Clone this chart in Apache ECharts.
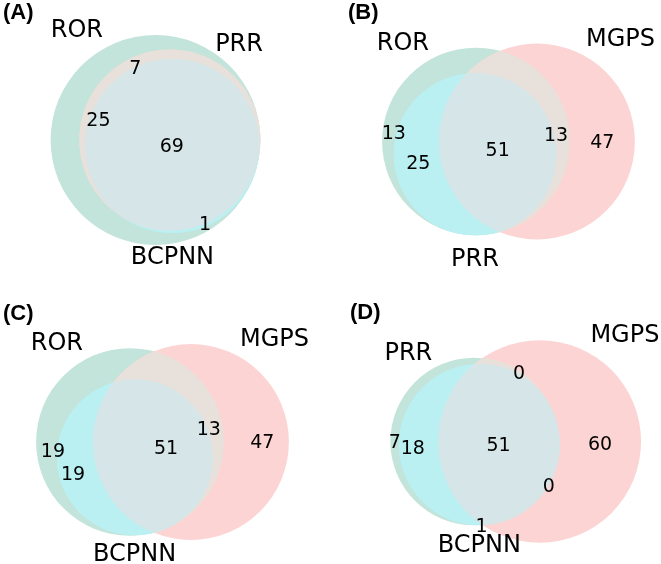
<!DOCTYPE html>
<html><head><meta charset="utf-8">
<script src="https://cdn.jsdelivr.net/npm/echarts@6/dist/echarts.min.js"></script>
<style>html,body{margin:0;padding:0;background:#fff}#chart{width:661px;height:564px}</style>
</head><body><div id="chart"></div>
<script>
// ---------------- data ----------------
const panelTitles = ['(A)', '(B)', '(C)', '(D)'];
const setsA = ['ROR', 'PRR', 'BCPNN'];
const setsB = ['ROR', 'MGPS', 'PRR'];
const setsC = ['ROR', 'MGPS', 'BCPNN'];
const setsD = ['PRR', 'MGPS', 'BCPNN'];
// subset counts, order: 100, 010, 110, 001, 101, 011, 111
const subsetsA = [25, 0, 7, 0, 1, 0, 69];
const subsetsB = [13, 47, 13, 0, 25, 0, 51];
const subsetsC = [19, 47, 13, 0, 19, 0, 51];
const subsetsD = [7, 60, 0, 1, 18, 0, 51];

// ---------------- styles / layout ----------------
// region colours in subset order (100, 010, 110, 001, 101, 011, 111)
const regionColors = ['#c3e4da', '#fdd4d4', '#e8e0da', '#b8f1f3', '#baf0f2', '#d9e4e6', '#d6e6e8'];
// panel cells (centre x, centre y, width, height) in px
const cells = [
  [155.5, 140, 293, 247],
  [508.5, 141.5, 293, 243],
  [162.5, 442, 293, 243],
  [516, 441.5, 293, 243]
];
const NUM_FS = 19, SET_FS = 24, TITLE_FS = 22;
const FONT = 'DejaVu Sans';
const thirdLabelShift = [4, 4, 0, 0]; // px nudge of the bottom set name
// px nudges of the region-count labels, per panel, in subset order
const labelNudge = [
  [[6, 24], [0, 0], [-1, 9], [0, 0], [-1, 2], [0, 0], [0, 4]],
  [[5, -20], [0, 3], [-6, -2], [0, 0], [0, 0], [0, 0], [0, 3]],
  [[5, -6], [6, 3], [-8, -8], [0, 0], [-5, 4], [0, 0], [13, -2]],
  [[0, 0], [5, -17], [-2, 2], [0, 3], [-6, 3], [1, 4], [6, -18]]
];

// ---------------- venn layout (area-proportional, 3 circles) ----------------
function lensArea(r1, r2, d) {
  const R = Math.max(r1, r2), r = Math.min(r1, r2);
  if (d >= R + r) return 0;
  if (d <= R - r) return Math.PI * r * r;
  const a1 = r * r * Math.acos((d * d + r * r - R * R) / (2 * d * r));
  const a2 = R * R * Math.acos((d * d + R * R - r * r) / (2 * d * R));
  const a3 = 0.5 * Math.sqrt((-d + r + R) * (d + r - R) * (d - r + R) * (d + r + R));
  return a1 + a2 - a3;
}
function distForArea(r1, r2, a) {
  const R = Math.max(r1, r2), r = Math.min(r1, r2);
  if (a < 1e-9) return R + r;
  if (Math.PI * r * r - a < 1e-9) return R - r;
  let lo = R - r, hi = R + r;
  for (let k = 0; k < 100; k++) {
    const m = (lo + hi) / 2;
    if (lensArea(R, r, m) > a) lo = m; else hi = m;
  }
  return (lo + hi) / 2;
}
function solveVenn3(sub) {
  const tot = sub.reduce((s, v) => s + v, 0);
  const s = sub.map(v => v / tot);
  const Aa = s[0] + s[2] + s[4] + s[6], Ab = s[1] + s[2] + s[5] + s[6], Ac = s[3] + s[4] + s[5] + s[6];
  const Aab = s[2] + s[6], Abc = s[5] + s[6], Aac = s[4] + s[6];
  const r = [Aa, Ab, Ac].map(a => Math.sqrt(a / Math.PI));
  const d = [distForArea(r[0], r[1], Aab), distForArea(r[1], r[2], Abc), distForArea(r[2], r[0], Aac)];
  for (let i = 0; i < 3; i++) {
    const j = (i + 1) % 3, k = (i + 2) % 3;
    if (d[i] > d[j] + d[k]) {
      const ab = d[j] < d[k] ? [j, k] : [k, j];
      d[i] = d[ab[1]] + d[ab[0]] * 0.8;
    }
  }
  const dab = d[0], dbc = d[1], dac = d[2];
  const cx = (dac * dac - dbc * dbc + dab * dab) / (2 * dab);
  const cy = dac * dac < cx * cx ? 0 : -Math.sqrt(dac * dac - cx * cx);
  let c = [[0, 0], [dab, 0], [cx, cy]];
  const w = r.map(v => v * v), ws = w[0] + w[1] + w[2];
  const mx = (w[0] * c[0][0] + w[1] * c[1][0] + w[2] * c[2][0]) / ws;
  const my = (w[0] * c[0][1] + w[1] * c[1][1] + w[2] * c[2][1]) / ws;
  c = c.map(p => [p[0] - mx, p[1] - my]);
  return { c, r };
}
// boundary arcs of every region; label at the mean of the midpoints of its two longest arcs
function regionLabels(c, r) {
  const arcs = [[], [], [], [], [], [], []];
  for (let i = 0; i < 3; i++) {
    let angs = [];
    for (let j = 0; j < 3; j++) {
      if (j === i) continue;
      const dx = c[j][0] - c[i][0], dy = c[j][1] - c[i][1], d = Math.hypot(dx, dy);
      if (d >= r[i] + r[j] - 1e-9 || d <= Math.abs(r[i] - r[j]) + 1e-9) continue;
      const a = (d * d + r[i] * r[i] - r[j] * r[j]) / (2 * d);
      const phi = Math.acos(Math.max(-1, Math.min(1, a / r[i])));
      const base = Math.atan2(dy, dx);
      angs.push(base + phi, base - phi);
    }
    angs = angs.map(t => ((t % (2 * Math.PI)) + 2 * Math.PI) % (2 * Math.PI)).sort((p, q) => p - q);
    const segs = angs.length ? angs.map((t, k) => [t, k + 1 < angs.length ? angs[k + 1] : angs[0] + 2 * Math.PI]) : [[0, 2 * Math.PI]];
    segs.forEach(sg => {
      const tm = (sg[0] + sg[1]) / 2;
      const p = [c[i][0] + r[i] * Math.cos(tm), c[i][1] + r[i] * Math.sin(tm)];
      let others = 0;
      for (let j = 0; j < 3; j++) {
        if (j === i) continue;
        const dx = p[0] - c[j][0], dy = p[1] - c[j][1];
        if (dx * dx + dy * dy < r[j] * r[j]) others |= (1 << j);
      }
      const arc = { mid: p, len: r[i] * (sg[1] - sg[0]) };
      arcs[(others | (1 << i)) - 1].push(arc);
      if (others) arcs[others - 1].push(arc);
    });
  }
  return arcs.map(list => {
    if (!list.length) return null;
    const top = list.slice().sort((p, q) => q.len - p.len).slice(0, 2);
    let mx = 0, my = 0;
    top.forEach(a => { mx += a.mid[0]; my += a.mid[1]; });
    return [mx / top.length, my / top.length];
  });
}
function interPoly(c, r, ids) {
  const pts = [];
  const M = 720;
  for (const i of ids) {
    for (let k = 0; k < M; k++) {
      const t = k / M * 2 * Math.PI;
      const p = [c[i][0] + r[i] * Math.cos(t), c[i][1] + r[i] * Math.sin(t)];
      let ok = true;
      for (const j of ids) {
        if (j === i) continue;
        const dx = p[0] - c[j][0], dy = p[1] - c[j][1];
        if (Math.sqrt(dx * dx + dy * dy) > r[j] * (1 + 1e-9)) { ok = false; break; }
      }
      if (ok) pts.push(p);
    }
  }
  if (pts.length < 3) return null;
  let mx = 0, my = 0;
  pts.forEach(p => { mx += p[0]; my += p[1]; });
  mx /= pts.length; my /= pts.length;
  pts.sort((p, q) => Math.atan2(p[1] - my, p[0] - mx) - Math.atan2(q[1] - my, q[0] - mx));
  return pts;
}

const panels = [
  { sets: setsA, subs: subsetsA },
  { sets: setsB, subs: subsetsB },
  { sets: setsC, subs: subsetsC },
  { sets: setsD, subs: subsetsD }
];

const grids = [], xAxes = [], yAxes = [], series = [], titles = [];
panels.forEach((P, pi) => {
  const L = solveVenn3(P.subs);
  const c = L.c, r = L.r;
  const labels = regionLabels(c, r);
  let x0 = Infinity, x1 = -Infinity, y0 = Infinity, y1 = -Infinity;
  for (let i = 0; i < 3; i++) {
    x0 = Math.min(x0, c[i][0] - r[i]); x1 = Math.max(x1, c[i][0] + r[i]);
    y0 = Math.min(y0, c[i][1] - r[i]); y1 = Math.max(y1, c[i][1] + r[i]);
  }
  x0 -= 0.1; x1 += 0.1; y0 -= 0.1; y1 += 0.1;
  const cell = cells[pi];
  const sc = Math.min(cell[2] / (x1 - x0), cell[3] / (y1 - y0));
  const gw = (x1 - x0) * sc, gh = (y1 - y0) * sc;
  grids.push({ left: cell[0] - gw / 2, top: cell[1] - gh / 2, width: gw, height: gh, containLabel: false });
  xAxes.push({ type: 'value', gridIndex: pi, min: x0, max: x1, show: false });
  yAxes.push({ type: 'value', gridIndex: pi, min: y0, max: y1, show: false });

  // layers painted in order: 3 circles, 3 pairwise lenses, triple intersection
  const layers = [
    { kind: 'circle', i: 0, color: regionColors[0] },
    { kind: 'circle', i: 1, color: regionColors[1] },
    { kind: 'circle', i: 2, color: regionColors[3] },
    { kind: 'poly', pts: interPoly(c, r, [0, 1]), color: regionColors[2] },
    { kind: 'poly', pts: interPoly(c, r, [0, 2]), color: regionColors[4] },
    { kind: 'poly', pts: interPoly(c, r, [1, 2]), color: regionColors[5] },
    { kind: 'poly', pts: interPoly(c, r, [0, 1, 2]), color: regionColors[6] }
  ];
  series.push({
    type: 'custom', xAxisIndex: pi, yAxisIndex: pi, silent: true, animation: false,
    data: layers.map((l, k) => [k]),
    renderItem: function (params, api) {
      const l = layers[params.dataIndex];
      if (l.kind === 'circle') {
        const p = api.coord(c[l.i]);
        const rad = api.size([r[l.i], 0])[0];
        return { type: 'circle', shape: { cx: p[0], cy: p[1], r: rad }, style: { fill: l.color } };
      }
      if (!l.pts) return null;
      return { type: 'polygon', shape: { points: l.pts.map(q => api.coord(q)) }, style: { fill: l.color } };
    }
  });

  // text: region counts + set names
  const texts = [];
  labels.forEach((pos, k) => {
    if (pos) texts.push({ pos: pos, text: String(P.subs[k]), fs: NUM_FS, align: 'center', anchor: 'center',
      dx: labelNudge[pi][k][0], dy: labelNudge[pi][k][1] });
  });
  texts.push({ pos: [c[0][0] - r[0] / 2, c[0][1] + r[0]], text: P.sets[0], fs: SET_FS, align: 'right', anchor: 'baseline', dx: 0, dy: 0 });
  texts.push({ pos: [c[1][0] + r[1] / 2, c[1][1] + r[1]], text: P.sets[1], fs: SET_FS, align: 'left', anchor: 'baseline', dx: 0, dy: 0 });
  texts.push({ pos: [c[2][0], c[2][1] - r[2] * 1.1], text: P.sets[2], fs: SET_FS, align: 'center', anchor: 'top', dx: 0, dy: thirdLabelShift[pi] });
  series.push({
    type: 'custom', xAxisIndex: pi, yAxisIndex: pi, silent: true, animation: false,
    data: texts.map((t, k) => [k]),
    renderItem: function (params, api) {
      const t = texts[params.dataIndex];
      const p = api.coord(t.pos);
      let y = p[1] + t.dy;
      if (t.anchor === 'baseline') y -= 0.175 * t.fs;
      else if (t.anchor === 'top') y += 0.50 * t.fs;
      else y -= 0.08 * t.fs;
      return { type: 'text', x: p[0] + t.dx, y: y, style: { text: t.text, fontSize: t.fs, fontFamily: FONT, fill: '#000', align: t.align, verticalAlign: 'middle' } };
    }
  });
});

const titlePos = [[3, 2], [348, 2], [3, 303], [350, 302]];
panelTitles.forEach((t, k) => {
  titles.push({ text: t, left: titlePos[k][0], top: titlePos[k][1], padding: 0,
    textStyle: { fontFamily: 'Liberation Sans', fontWeight: 'bold', fontSize: TITLE_FS, color: '#000' } });
});

const chart = echarts.init(document.getElementById('chart'), null, { renderer: 'canvas' });
chart.setOption({
  animation: false,
  backgroundColor: '#ffffff',
  title: titles,
  grid: grids,
  xAxis: xAxes,
  yAxis: yAxes,
  series: series
});
</script></body></html>
